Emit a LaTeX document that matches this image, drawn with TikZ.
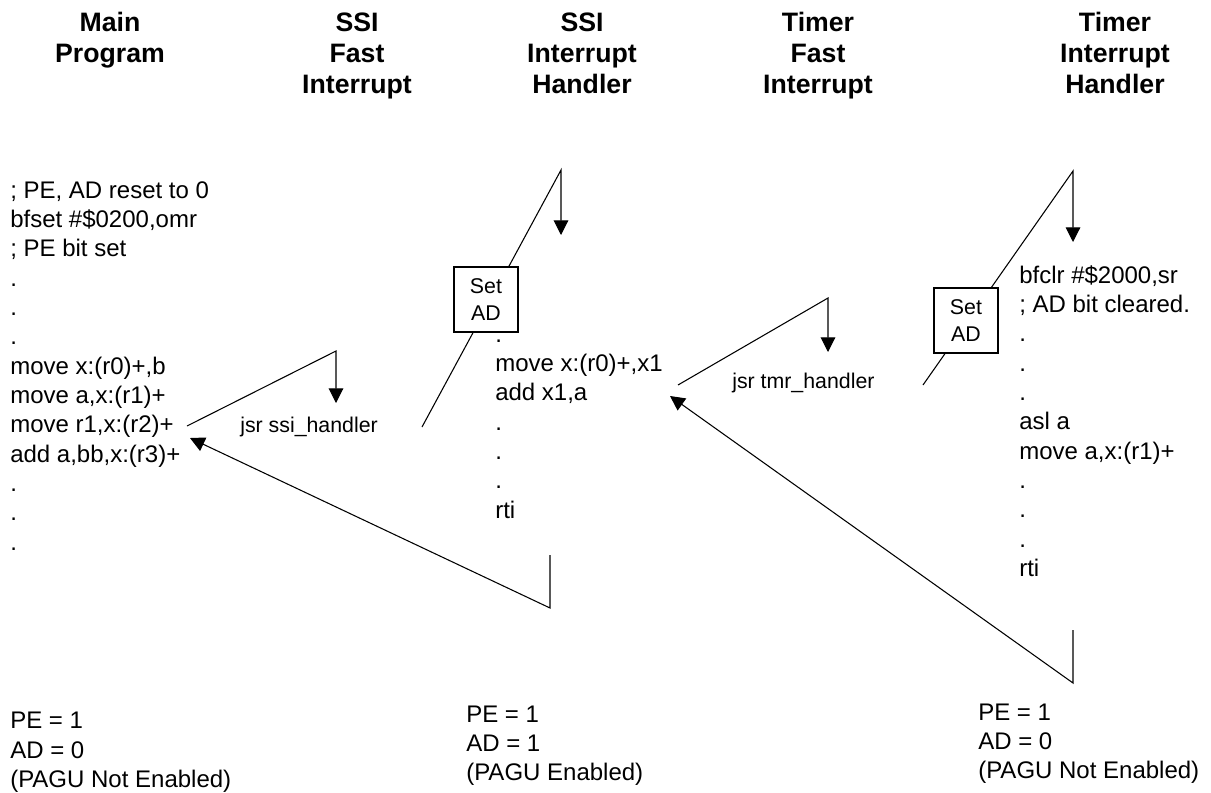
\documentclass[tikz,border=0pt]{standalone}
\usepackage{fontspec}
\setmainfont{Liberation Sans}
\usetikzlibrary{arrows.meta}
\begin{document}
\begin{tikzpicture}[
    x=0.75pt, y=-0.75pt,
    head/.style={anchor=north, align=center, inner sep=0pt, font=\fontsize{20}{23.25}\selectfont\bfseries},
    code/.style={anchor=north west, align=left, inner sep=0pt, font=\fontsize{18}{22}\selectfont},
    lbl/.style={anchor=base west, inner sep=0pt, font=\fontsize{16}{19}\selectfont},
    setbox/.style={draw, fill=white, line width=0.9pt, minimum width=48pt, minimum height=48.75pt, align=center, inner sep=0pt, font=\fontsize{16}{20}\selectfont},
    ln/.style={line width=0.8pt},
    arr/.style={ln, -{Triangle[length=11pt,width=11pt]}}
]
\useasboundingbox (0,0) rectangle (1211,793);

% Column headings
\node[head] (hMain) at (110,9.3) {\strut Main\\Program};
\node[head] (hSsiFast) at (357,9.3) {\strut SSI\\Fast\\Interrupt};
\node[head] (hSsiHdl) at (582,9.3) {\strut SSI\\Interrupt\\Handler};
\node[head] (hTmrFast) at (818,9.3) {\strut Timer\\Fast\\Interrupt};
\node[head] (hTmrHdl) at (1115,9.3) {\strut Timer\\Interrupt\\Handler};

% Code listings
\node[code] (mainCode) at (10,177.5) {\strut ; PE, AD reset to 0\\bfset \#\$0200,omr\\; PE bit set\\.\\.\\.\\move x:(r0)+,b\\move a,x:(r1)+\\move r1,x:(r2)+\\add a,bb,x:(r3)+\\.\\.\\.};
\node[code] (ssiCode) at (495,321.5) {\strut .\\move x:(r0)+,x1\\add x1,a\\.\\.\\.\\rti};
\node[code] (tmrCode) at (1019,262.5) {\strut bfclr \#\$2000,sr\\; AD bit cleared.\\.\\.\\.\\asl a\\move a,x:(r1)+\\.\\.\\.\\rti};

% Mode bits
\node[code] (mainState) at (10,708) {\strut PE = 1\\AD = 0\\(PAGU Not Enabled)};
\node[code] (ssiState) at (466,701.5) {\strut PE = 1\\AD = 1\\(PAGU Enabled)};
\node[code] (tmrState) at (978,699.5) {\strut PE = 1\\AD = 0\\(PAGU Not Enabled)};

% Call labels
\node[lbl] (ssiCall) at (240,432) {jsr ssi\_handler};
\node[lbl] (tmrCall) at (732,388) {jsr tmr\_handler};

% Flow points
\coordinate (ssiCallA) at (187,426);
\coordinate (ssiCallB) at (336,351);
\coordinate (ssiCallC) at (336,403);
\coordinate (ssiLow) at (422,427);
\coordinate (ssiTop) at (561,170);
\coordinate (ssiEntry) at (561,235);
\coordinate (ssiRetA) at (550,555);
\coordinate (ssiRetB) at (550,608);
\coordinate (ssiRetC) at (190,438);
\coordinate (tmrCallA) at (678,385);
\coordinate (tmrCallB) at (828,298);
\coordinate (tmrCallC) at (828,352);
\coordinate (tmrLow) at (923,385);
\coordinate (tmrTop) at (1073,171);
\coordinate (tmrEntry) at (1073,242);
\coordinate (tmrRetA) at (1073,630);
\coordinate (tmrRetB) at (1073,683);
\coordinate (tmrRetC) at (670,396);

% Flow lines
\draw[arr] (ssiCallA) -- (ssiCallB) -- (ssiCallC);
\draw[arr] (ssiLow) -- (ssiTop) -- (ssiEntry);
\draw[arr] (ssiRetA) -- (ssiRetB) -- (ssiRetC);
\draw[arr] (tmrCallA) -- (tmrCallB) -- (tmrCallC);
\draw[arr] (tmrLow) -- (tmrTop) -- (tmrEntry);
\draw[arr] (tmrRetA) -- (tmrRetB) -- (tmrRetC);

% AD set boxes on top of the lines
\node[setbox] (ssiSet) at (486,299.5) {Set\\AD};
\node[setbox] (tmrSet) at (966,320.5) {Set\\AD};
\end{tikzpicture}
\end{document}
